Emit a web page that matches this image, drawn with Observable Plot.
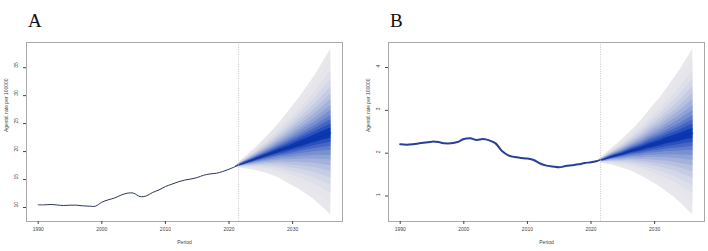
<!DOCTYPE html>
<html><head><meta charset="utf-8">
<script src="https://cdn.jsdelivr.net/npm/d3@7"></script>
<script src="https://cdn.jsdelivr.net/npm/@observablehq/plot@0.6"></script>
<style>
html,body{margin:0;padding:0;background:#fff;}
#row{display:flex;width:708px;height:251px;}
#row svg{display:block;}
</style></head><body><div id="row"></div>
<script>
// Observed age-standardised rates, 1990-2021
const observedYears = [1990,1991,1992,1993,1994,1995,1996,1997,1998,1999,2000,2001,2002,2003,2004,2005,2006,2007,2008,2009,2010,2011,2012,2013,2014,2015,2016,2017,2018,2019,2020,2021];
const rateA = [10.48,10.48,10.54,10.45,10.36,10.42,10.42,10.3,10.24,10.24,10.95,11.37,11.7,12.2,12.56,12.56,11.96,12.08,12.7,13.15,13.75,14.17,14.58,14.9,15.1,15.36,15.77,16.0,16.13,16.43,16.85,17.32];
const rateB = [2.21,2.2,2.21,2.23,2.25,2.27,2.26,2.23,2.23,2.26,2.33,2.35,2.31,2.33,2.3,2.23,2.05,1.95,1.91,1.89,1.875,1.84,1.76,1.71,1.69,1.67,1.7,1.72,1.74,1.77,1.79,1.82];

// Projections 2021-2036: central estimate and outermost interval
const fanYears = [2021,2022,2023,2024,2025,2026,2027,2028,2029,2030,2031,2032,2033,2034,2035,2036];
const fanMeanA = [17.32,17.75,18.15,18.55,18.95,19.35,19.75,20.15,20.5,20.9,21.3,21.7,22.1,22.5,22.9,23.3];
const fanLowA  = [17.32,17.02,16.84,16.65,16.39,16.06,15.66,15.19,14.51,13.89,13.27,12.5,11.73,10.82,9.76,8.7];
const fanHighA = [17.32,18.5,19.5,20.5,21.58,22.73,23.95,25.25,26.65,28.1,29.55,31.15,32.75,34.5,36.4,38.3];
const fanMeanB = [1.82,1.85,1.9,1.94,1.98,2.03,2.07,2.11,2.16,2.2,2.24,2.29,2.33,2.37,2.42,2.46];
const fanLowB  = [1.82,1.76,1.73,1.69,1.65,1.6,1.54,1.46,1.38,1.29,1.2,1.09,0.98,0.85,0.71,0.56];
const fanHighB = [1.82,1.95,2.08,2.2,2.33,2.47,2.62,2.78,2.97,3.15,3.32,3.53,3.73,3.95,4.19,4.43];

// Nested prediction intervals, as a share of the outermost interval
const bandFractions = [1, 0.86, 0.74, 0.64, 0.55, 0.47, 0.40, 0.33, 0.27, 0.21, 0.16, 0.11, 0.06];

const xTicks = [1990, 2000, 2010, 2020, 2030];
const yTicksA = [10, 15, 20, 25, 30, 35];
const yTicksB = [1, 2, 3, 4];

// Outer intervals pale grey, inner intervals deep blue
const bandColors = bandFractions.map((_, i) =>
  d3.interpolateRgb("#e8e8ec", "#0a38b4")(Math.pow(i / (bandFractions.length - 1), 1.7)));

const textColor = "#444";
const sans = "'Liberation Sans', Arial, sans-serif";

function panel({letter, rate, fanMean, fanLow, fanHigh, yDomain, yTicks, marginLeft, marginRight, lineColor, lineWidth}) {
  const bands = bandFractions.map((f, i) => ({
    color: bandColors[i],
    rows: fanYears.map((year, j) => ({
      year,
      lo: fanMean[j] - f * (fanMean[j] - fanLow[j]),
      hi: fanMean[j] + f * (fanHigh[j] - fanMean[j])
    }))
  }));
  const observed = observedYears.map((year, i) => ({year, value: rate[i]}));
  const central = fanYears.map((year, i) => ({year, value: fanMean[i]}));
  return Plot.plot({
    width: 354, height: 251,
    marginTop: 42, marginBottom: 30, marginLeft, marginRight,
    x: {domain: [1988.16, 2037.84]},
    y: {domain: yDomain},
    style: {fontFamily: sans, background: "white", overflow: "visible"},
    marks: [
      ...bands.map(b => Plot.areaY(b.rows, {x: "year", y1: "lo", y2: "hi", fill: b.color, curve: "monotone-x"})),
      Plot.line(central, {x: "year", y: "value", stroke: "#1a2f86", strokeWidth: 0.8}),
      Plot.ruleX([2021.5], {stroke: "#c4c4c4", strokeWidth: 0.8, strokeDasharray: "1.2,1.2"}),
      Plot.line(observed, {x: "year", y: "value", stroke: lineColor, strokeWidth: lineWidth, curve: "catmull-rom"}),
      Plot.frame({stroke: "#aaa"}),
      Plot.axisX({ticks: xTicks, tickSize: 3, tickPadding: 3, fontSize: 5, tickFormat: d => String(d), label: null, color: textColor}),
      Plot.axisY({ticks: yTicks, tickSize: 3, tickFormat: () => "", label: null, color: textColor}),
      Plot.text(yTicks, {y: d => d, text: d => String(d), frameAnchor: "left", dx: -10, rotate: -90, fontSize: 5, fill: textColor}),
      Plot.text(["Period"], {text: d => d, frameAnchor: "bottom", dy: 22, fontSize: 5, fill: textColor}),
      Plot.text(["Agestd. rate per 100000"], {text: d => d, frameAnchor: "left", dx: -20, rotate: -90, fontSize: 5, fill: textColor}),
      Plot.text([letter], {text: d => d, frameAnchor: "top-left", dx: 1.5, dy: -29, fontSize: 19, fontFamily: "'Liberation Serif', 'Times New Roman', serif", fill: "#111"})
    ]
  });
}

const row = document.getElementById("row");
row.append(panel({letter: "A", rate: rateA, fanMean: fanMeanA, fanLow: fanLowA, fanHigh: fanHighA,
  yDomain: [7.5, 39.5], yTicks: yTicksA, marginLeft: 26, marginRight: 12, lineColor: "#2b3555", lineWidth: 1}));
row.append(panel({letter: "B", rate: rateB, fanMean: fanMeanB, fanLow: fanLowB, fanHigh: fanHighB,
  yDomain: [0.405, 4.585], yTicks: yTicksB, marginLeft: 34, marginRight: 4, lineColor: "#2a3f96", lineWidth: 2}));
</script></body></html>
